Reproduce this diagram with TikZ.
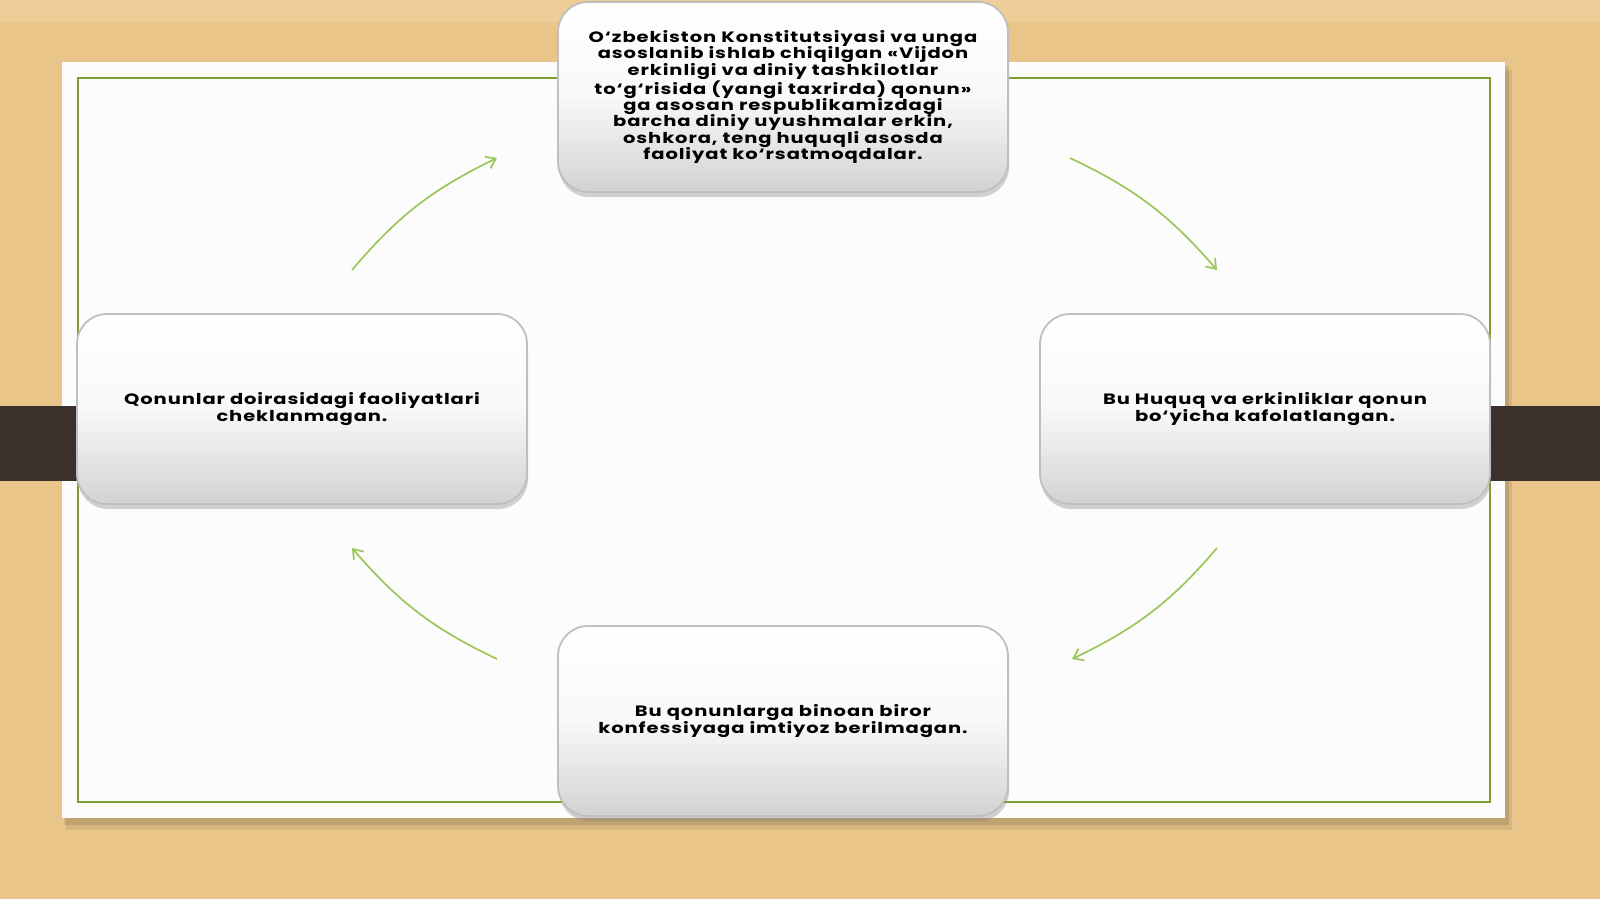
\documentclass[tikz,border=0pt]{standalone}
\usepackage{fontspec}
\setmainfont{Poppins}[FakeStretch=1.3, LetterSpace=6]
\usetikzlibrary{shadows, arrows.meta, bending}
\definecolor{wood}{RGB}{233,197,137}
\definecolor{woodlight}{RGB}{240,212,165}
\definecolor{darkbar}{RGB}{60,49,42}
\definecolor{framegreen}{RGB}{128,158,48}
\definecolor{arrowgreen}{RGB}{155,198,90}
\tikzset{
    card/.style={rectangle, rounded corners=30pt, draw=gray!50, line width=1.8pt,
        top color=white, bottom color=gray!35, middle color=white!95!gray,
        minimum width=450pt, minimum height=190pt, align=center,
        font=\bfseries\fontsize{15}{16.4}\selectfont,
        drop shadow={shadow xshift=1pt, shadow yshift=-5pt, opacity=0.35, fill=gray}},
    cyclearrow/.style={-{Straight Barb[length=9pt, width=13pt, bend]}, arrowgreen, line width=1.7pt}
}
\begin{document}
\begin{tikzpicture}[x=1pt, y=-1pt]
    \useasboundingbox (0,0) rectangle (1600,899);
    % background
    \fill[wood] (0,0) rectangle (1600,899);
    \fill[woodlight, opacity=0.6] (0,0) rectangle (1600,22);
    \fill[black, opacity=0.08] (66,70) rectangle (1512,830);
    \fill[black, opacity=0.10] (64,66) rectangle (1509,825);
    \fill[white!98!gray] (62,62) rectangle (1505,818);
    \draw[framegreen, line width=1.6pt] (78,78) rectangle (1490,802);
    \fill[darkbar] (0,406) rectangle (78,481);
    \fill[darkbar] (1490,406) rectangle (1600,481);
    % boxes
    \node[card] (top) at (783,97) {O‘zbekiston Konstitutsiyasi va unga\\asoslanib ishlab chiqilgan «Vijdon\\erkinligi va diniy tashkilotlar\\to‘g‘risida (yangi taxrirda) qonun»\\ga asosan respublikamizdagi\\barcha diniy uyushmalar erkin,\\oshkora, teng huquqli asosda\\faoliyat ko‘rsatmoqdalar.};
    \node[card] (right) at (1265,409) {Bu Huquq va erkinliklar qonun\\bo‘yicha kafolatlangan.};
    \node[card] (bottom) at (783,721) {Bu qonunlarga binoan biror\\konfessiyaga imtiyoz berilmagan.};
    \node[card] (left) at (302,409) {Qonunlar doirasidagi faoliyatlari\\cheklanmagan.};
    % arrows
    \coordinate (tr-s) at (1070,158);
    \coordinate (tr-e) at (1217,270);
    \coordinate (br-s) at (1217,548);
    \coordinate (br-e) at (1072,659);
    \coordinate (bl-s) at (497,659);
    \coordinate (bl-e) at (352,548);
    \coordinate (tl-s) at (352,270);
    \coordinate (tl-e) at (497,158);
    \draw[cyclearrow] (tr-s) to[bend left=12] (tr-e);
    \draw[cyclearrow] (br-s) to[bend left=12] (br-e);
    \draw[cyclearrow] (bl-s) to[bend left=12] (bl-e);
    \draw[cyclearrow] (tl-s) to[bend left=12] (tl-e);
\end{tikzpicture}
\end{document}
